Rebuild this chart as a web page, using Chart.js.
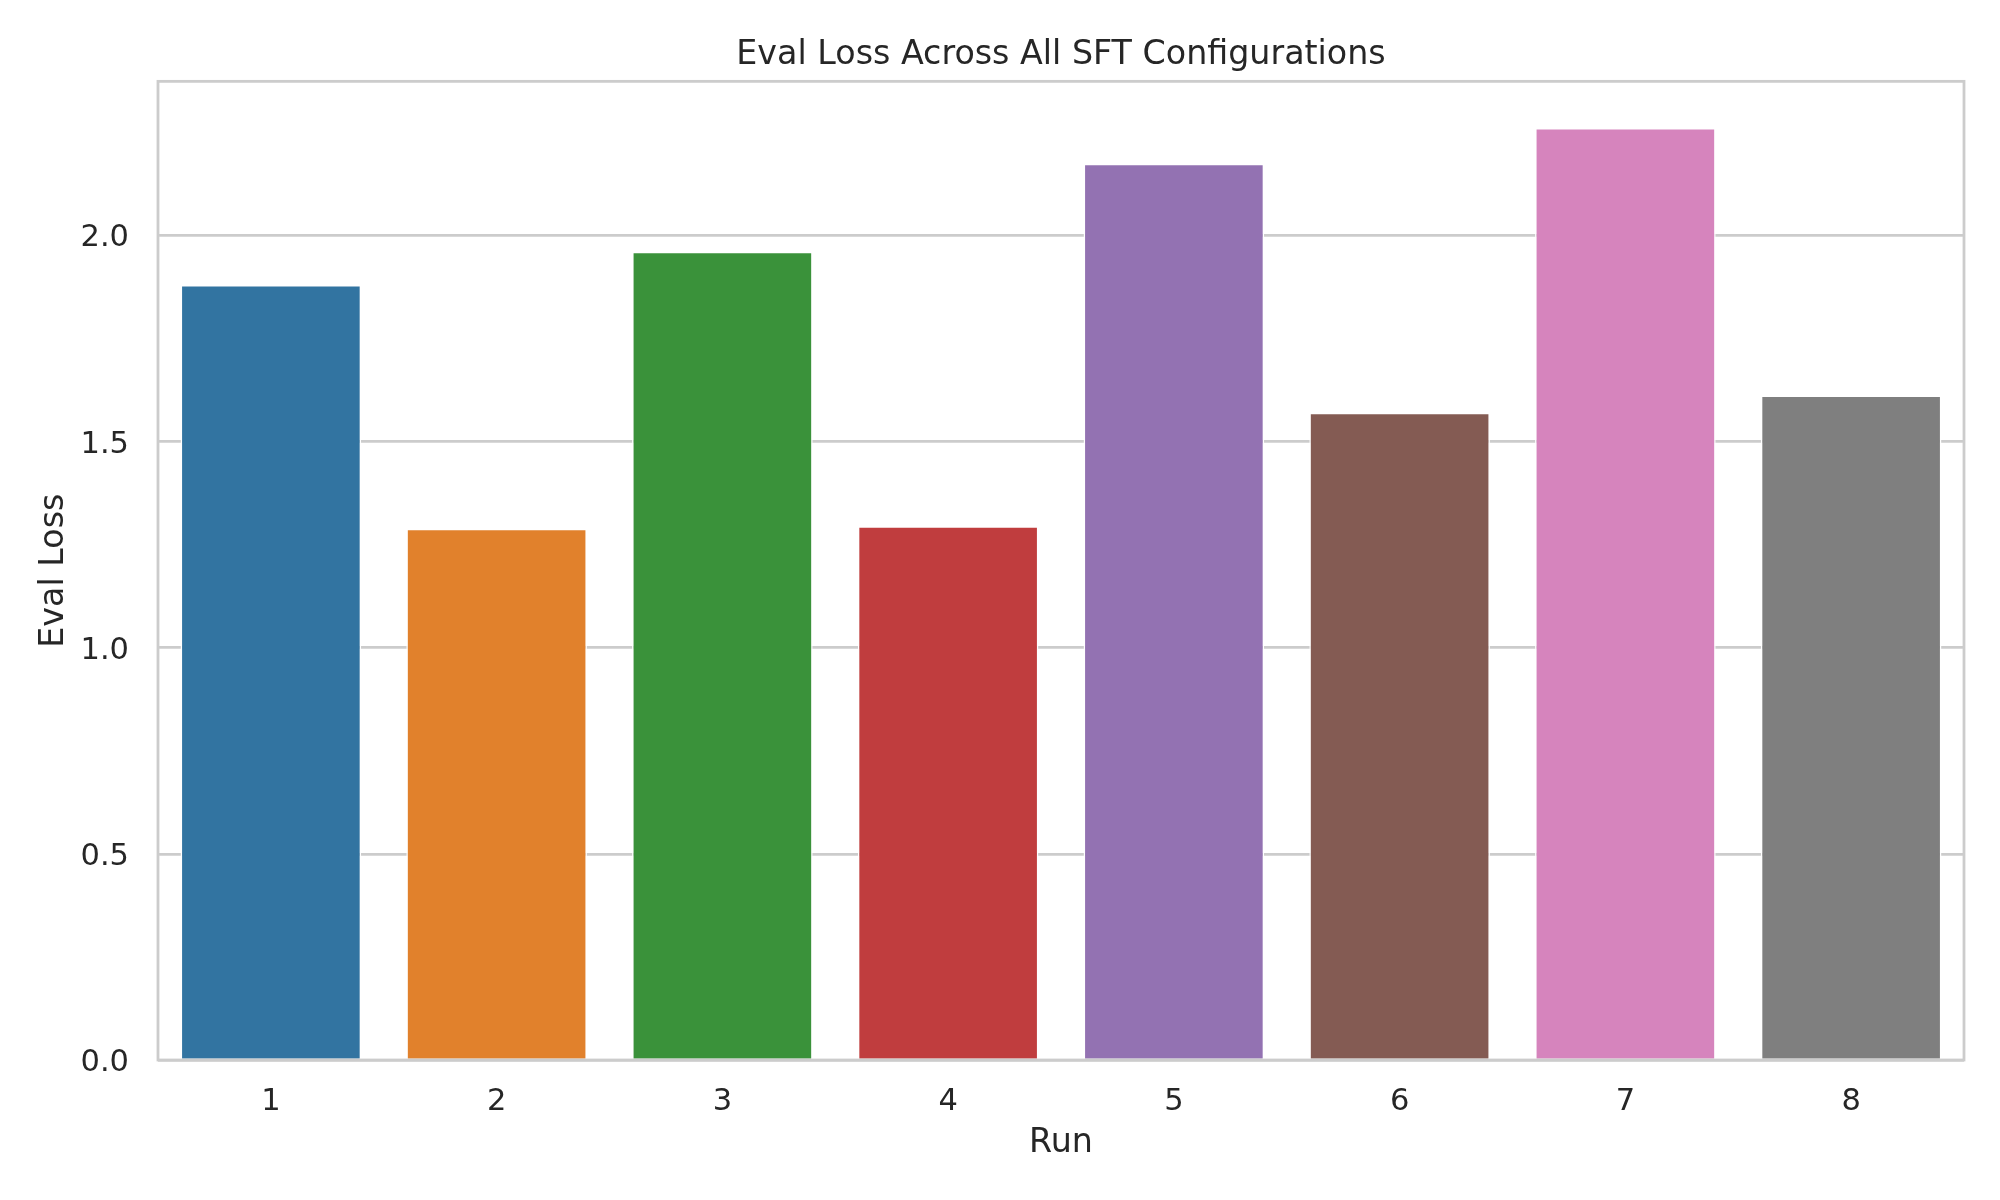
<!DOCTYPE html>
<html>
<head>
<meta charset="utf-8">
<script src="https://cdn.jsdelivr.net/npm/chart.js@4"></script>
<style>
  html, body { margin: 0; padding: 0; background: #ffffff; }
  canvas { display: block; }
</style>
</head>
<body>
<canvas id="c" width="2000" height="1200"></canvas>
<script>
// ---- data ----
const runs = ['1', '2', '3', '4', '5', '6', '7', '8'];
const evalLoss = [1.880, 1.289, 1.961, 1.295, 2.174, 1.570, 2.261, 1.612];
const barColors = ['#3274a1', '#e1812c', '#3a923a', '#c03d3e', '#9372b2', '#845b53', '#d684bd', '#7f7f7f'];
const chartTitle = 'Eval Loss Across All SFT Configurations';
const xLabel = 'Run';
const yLabel = 'Eval Loss';

const FONT = "'DejaVu Sans', sans-serif";
const TEXT = '#262626';
const GRID = '#cccccc';

const frame = {
  id: 'frame',
  afterDatasetsDraw(chart) {
    const a = chart.chartArea;
    const ctx = chart.ctx;
    ctx.save();
    ctx.strokeStyle = GRID;
    ctx.lineWidth = 2.8;
    ctx.strokeRect(a.left, a.top, a.right - a.left, a.bottom - a.top);
    ctx.restore();
  }
};

new Chart(document.getElementById('c'), {
  type: 'bar',
  data: {
    labels: runs,
    datasets: [{
      data: evalLoss,
      backgroundColor: barColors,
      borderColor: '#ffffff',
      borderWidth: 1.5,
      borderSkipped: 'bottom',
      barPercentage: 0.8,
      categoryPercentage: 1.0
    }]
  },
  options: {
    responsive: false,
    devicePixelRatio: 1,
    animation: false,
    layout: { padding: { left: 0, top: 0, right: 36, bottom: 0 } },
    plugins: {
      legend: { display: false },
      tooltip: { enabled: false },
      title: {
        display: true,
        text: chartTitle,
        fullSize: false,
        color: TEXT,
        font: { family: FONT, size: 33.3, weight: 'normal' },
        padding: { top: 35.5, bottom: 5.9 }
      }
    },
    scales: {
      x: {
        grid: { display: false, drawTicks: false },
        border: { display: false },
        ticks: { color: TEXT, font: { family: FONT, size: 30.5 }, padding: 24, maxRotation: 0 },
        title: {
          display: true, text: xLabel, color: TEXT,
          font: { family: FONT, size: 33.3 },
          padding: { top: 0, bottom: 36.5 }
        },
        afterFit(scale) { scale.height = 140; }
      },
      y: {
        min: 0,
        max: Math.max(...evalLoss) * 1.05,
        grid: { color: GRID, lineWidth: 2.7, drawTicks: false },
        border: { display: false },
        ticks: {
          stepSize: 0.5,
          includeBounds: false,
          color: TEXT,
          font: { family: FONT, size: 30.5 },
          padding: 29,
          labelOffset: 3,
          callback: (v) => Number(v).toFixed(1)
        },
        title: {
          display: true, text: yLabel, color: TEXT,
          font: { family: FONT, size: 33.3 },
          padding: { top: 34.5, bottom: 0 }
        },
        afterFit(scale) { scale.width = 158; }
      }
    }
  },
  plugins: [frame]
});
</script>
</body>
</html>
